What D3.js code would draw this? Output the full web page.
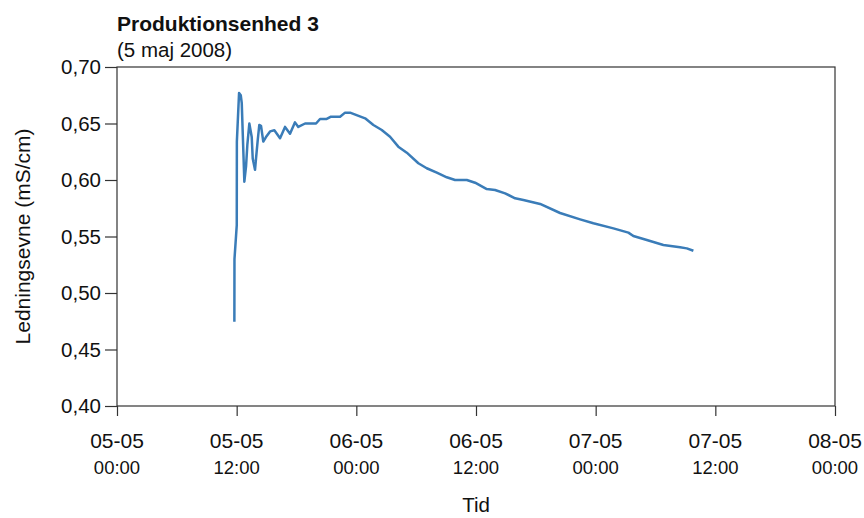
<!DOCTYPE html>
<html><head><meta charset="utf-8">
<script src="https://cdn.jsdelivr.net/npm/d3@7"></script>
<style>body{margin:0;background:#fff}svg{display:block;font-family:"Liberation Sans",Arial,sans-serif}</style>
</head><body>
<svg id="c" width="864" height="518"></svg>
<script>
// hours since 2008-05-05 00:00
const hours = [11.77,11.78,12.01,12.02,12.24,12.41,12.51,12.77,12.94,13.07,13.27,13.51,13.61,13.84,13.94,14.11,14.27,14.44,14.67,14.94,15.35,15.78,16.35,16.85,17.35,17.85,18.18,18.86,19.96,20.36,21.03,21.46,22.37,22.87,23.37,24.88,25.71,26.55,27.38,28.21,29.06,30.22,31.06,32.07,33.07,33.90,35.08,35.91,37.08,37.91,38.92,39.92,40.75,42.43,44.43,46.44,47.77,49.78,51.28,51.78,53.13,54.79,56.46,57.14,57.80];
const values = [0.4746,0.530,0.560,0.634,0.677,0.675,0.668,0.5985,0.612,0.631,0.650,0.638,0.619,0.609,0.619,0.635,0.6487,0.648,0.634,0.638,0.643,0.644,0.637,0.647,0.641,0.651,0.647,0.650,0.650,0.654,0.654,0.656,0.656,0.6596,0.6596,0.6546,0.6487,0.6442,0.6383,0.6295,0.6242,0.6148,0.6104,0.6065,0.6024,0.600,0.600,0.5976,0.592,0.5912,0.5882,0.5838,0.5823,0.5788,0.5708,0.5652,0.5617,0.5572,0.5534,0.5504,0.5469,0.5425,0.5404,0.5395,0.5374];
const yTicks = [0.40,0.45,0.50,0.55,0.60,0.65,0.70];
const xTickHours = [0,12,24,36,48,60,72];
const title = "Produktionsenhed 3";
const subtitle = "(5 maj 2008)";
const yLabel = "Ledningsevne (mS/cm)";
const xLabel = "Tid";

const start = new Date(2008,4,5,0,0);
const toDate = h => new Date(start.getTime() + h*3600e3);
const data = hours.map((h,i)=>({t:toDate(h), v:values[i]}));

const svg = d3.select("#c");
const m = {l:117, r:835, t:67, b:406};
const x = d3.scaleTime().domain([toDate(0), toDate(72)]).range([m.l, m.r]);
const y = d3.scaleLinear().domain([0.40,0.70]).range([m.b, m.t]);
const ink = "#333";
const txt = "#111";

svg.append("text").attr("x",m.l).attr("y",31).attr("font-size",21).attr("font-weight","bold").attr("fill",txt).text(title);
svg.append("text").attr("x",m.l).attr("y",57).attr("font-size",20.5).attr("fill",txt).text(subtitle);

// frame
svg.append("rect").attr("x",m.l).attr("y",m.t).attr("width",m.r-m.l).attr("height",m.b-m.t)
  .attr("fill","none").attr("stroke",ink).attr("stroke-width",1.2);

const fmt = d3.format(".2f");
const ya = svg.append("g").attr("transform",`translate(${m.l},0)`)
  .call(d3.axisLeft(y).tickValues(yTicks).tickSize(12).tickPadding(4).tickFormat(d=>fmt(d).replace(".",",")));
ya.select(".domain").remove();
ya.selectAll("line").attr("stroke",ink).attr("stroke-width",1.2);
ya.selectAll("text").attr("font-size",20.5).attr("fill",txt).attr("font-family","Liberation Sans, Arial, sans-serif");

const xa = svg.append("g").attr("transform",`translate(0,${m.b})`)
  .call(d3.axisBottom(x).tickValues(xTickHours.map(toDate)).tickSize(10).tickFormat(""));
xa.select(".domain").remove();
xa.selectAll("line").attr("stroke",ink).attr("stroke-width",1.2);
const fd = d3.timeFormat("%d-%m"), ft = d3.timeFormat("%H:%M");
xTickHours.forEach(h=>{
  const d = toDate(h);
  svg.append("text").attr("x",x(d)).attr("y",448).attr("text-anchor","middle").attr("font-size",21).attr("fill",txt).text(fd(d));
  svg.append("text").attr("x",x(d)).attr("y",474).attr("text-anchor","middle").attr("font-size",18.5).attr("fill",txt).text(ft(d));
});

svg.append("text").attr("x",(m.l+m.r)/2).attr("y",512).attr("text-anchor","middle").attr("font-size",20.5).attr("fill",txt).text(xLabel);
svg.append("text").attr("transform",`translate(30,${(m.t+m.b)/2}) rotate(-90)`).attr("text-anchor","middle").attr("font-size",21).attr("fill",txt).text(yLabel);

svg.append("path").datum(data).attr("fill","none").attr("stroke","#3a7cb8").attr("stroke-width",2.5).attr("stroke-linejoin","round")
  .attr("d", d3.line().x(d=>x(d.t)).y(d=>y(d.v)));
</script>
</body></html>
